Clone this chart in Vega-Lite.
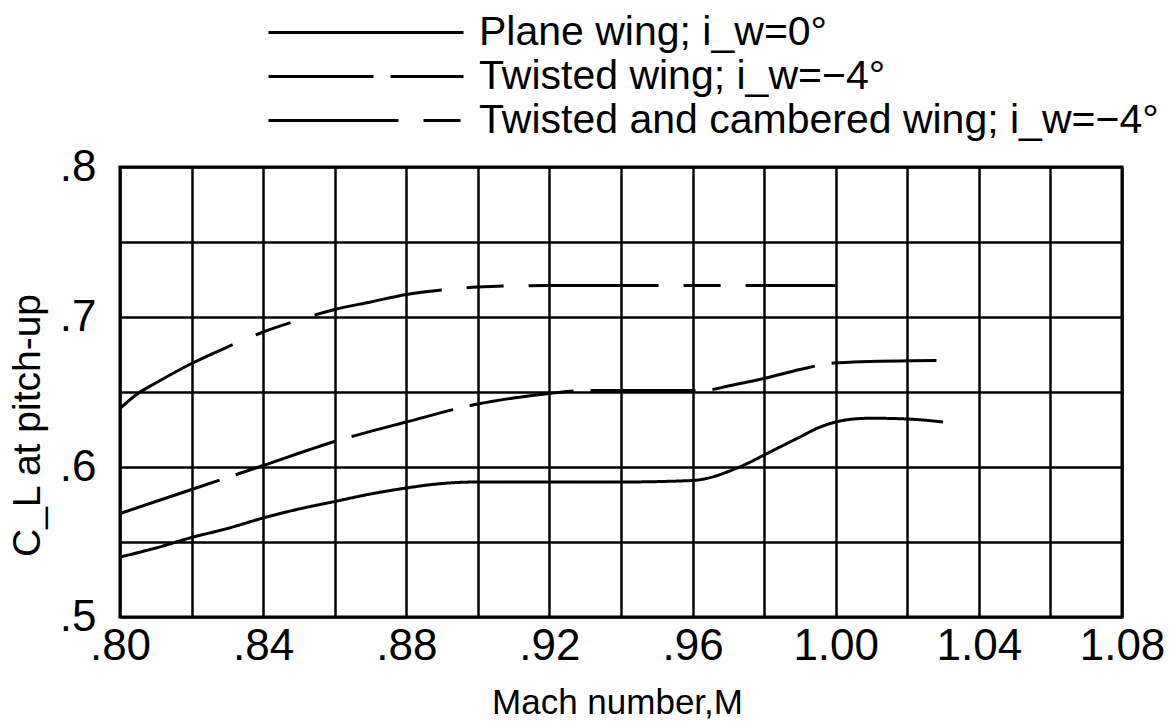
{
  "$schema": "https://vega.github.io/schema/vega-lite/v6.json",
  "width": 1002,
  "height": 450,
  "autosize": {"type": "none"},
  "padding": {"left": 120, "top": 167, "right": 53, "bottom": 107},
  "background": "white",
  "config": {
    "font": "Liberation Sans",
    "view": {"stroke": "black", "strokeWidth": 3},
    "axis": {"gridColor": "black", "gridWidth": 2.5, "gridOpacity": 1, "ticks": false, "domain": false, "labelColor": "black", "titleColor": "black", "labelFont": "Liberation Sans", "titleFont": "Liberation Sans", "titleFontWeight": "normal"}
  },
  "data": {"values": [
    {"M": 0.80, "CL": 0.540, "wing": "Plane wing; i_w=0°"},
    {"M": 0.81, "CL": 0.546, "wing": "Plane wing; i_w=0°"},
    {"M": 0.82, "CL": 0.553, "wing": "Plane wing; i_w=0°"},
    {"M": 0.83, "CL": 0.559, "wing": "Plane wing; i_w=0°"},
    {"M": 0.84, "CL": 0.566, "wing": "Plane wing; i_w=0°"},
    {"M": 0.85, "CL": 0.572, "wing": "Plane wing; i_w=0°"},
    {"M": 0.86, "CL": 0.577, "wing": "Plane wing; i_w=0°"},
    {"M": 0.87, "CL": 0.582, "wing": "Plane wing; i_w=0°"},
    {"M": 0.88, "CL": 0.586, "wing": "Plane wing; i_w=0°"},
    {"M": 0.89, "CL": 0.589, "wing": "Plane wing; i_w=0°"},
    {"M": 0.90, "CL": 0.590, "wing": "Plane wing; i_w=0°"},
    {"M": 0.92, "CL": 0.590, "wing": "Plane wing; i_w=0°"},
    {"M": 0.94, "CL": 0.590, "wing": "Plane wing; i_w=0°"},
    {"M": 0.96, "CL": 0.591, "wing": "Plane wing; i_w=0°"},
    {"M": 0.965, "CL": 0.593, "wing": "Plane wing; i_w=0°"},
    {"M": 0.97, "CL": 0.597, "wing": "Plane wing; i_w=0°"},
    {"M": 0.975, "CL": 0.602, "wing": "Plane wing; i_w=0°"},
    {"M": 0.98, "CL": 0.608, "wing": "Plane wing; i_w=0°"},
    {"M": 0.985, "CL": 0.614, "wing": "Plane wing; i_w=0°"},
    {"M": 0.99, "CL": 0.620, "wing": "Plane wing; i_w=0°"},
    {"M": 0.995, "CL": 0.626, "wing": "Plane wing; i_w=0°"},
    {"M": 1.00, "CL": 0.630, "wing": "Plane wing; i_w=0°"},
    {"M": 1.005, "CL": 0.632, "wing": "Plane wing; i_w=0°"},
    {"M": 1.01, "CL": 0.6325, "wing": "Plane wing; i_w=0°"},
    {"M": 1.02, "CL": 0.632, "wing": "Plane wing; i_w=0°"},
    {"M": 1.03, "CL": 0.630, "wing": "Plane wing; i_w=0°"},
    {"M": 0.80, "CL": 0.569, "wing": "Twisted wing; i_w=−4°"},
    {"M": 0.82, "CL": 0.585, "wing": "Twisted wing; i_w=−4°"},
    {"M": 0.84, "CL": 0.601, "wing": "Twisted wing; i_w=−4°"},
    {"M": 0.86, "CL": 0.617, "wing": "Twisted wing; i_w=−4°"},
    {"M": 0.88, "CL": 0.630, "wing": "Twisted wing; i_w=−4°"},
    {"M": 0.90, "CL": 0.642, "wing": "Twisted wing; i_w=−4°"},
    {"M": 0.91, "CL": 0.646, "wing": "Twisted wing; i_w=−4°"},
    {"M": 0.92, "CL": 0.649, "wing": "Twisted wing; i_w=−4°"},
    {"M": 0.93, "CL": 0.651, "wing": "Twisted wing; i_w=−4°"},
    {"M": 0.94, "CL": 0.651, "wing": "Twisted wing; i_w=−4°"},
    {"M": 0.96, "CL": 0.651, "wing": "Twisted wing; i_w=−4°"},
    {"M": 0.965, "CL": 0.6515, "wing": "Twisted wing; i_w=−4°"},
    {"M": 0.97, "CL": 0.654, "wing": "Twisted wing; i_w=−4°"},
    {"M": 0.98, "CL": 0.659, "wing": "Twisted wing; i_w=−4°"},
    {"M": 0.99, "CL": 0.665, "wing": "Twisted wing; i_w=−4°"},
    {"M": 1.00, "CL": 0.6695, "wing": "Twisted wing; i_w=−4°"},
    {"M": 1.005, "CL": 0.670, "wing": "Twisted wing; i_w=−4°"},
    {"M": 1.03, "CL": 0.671, "wing": "Twisted wing; i_w=−4°"},
    {"M": 0.80, "CL": 0.639, "wing": "Twisted and cambered wing; i_w=−4°"},
    {"M": 0.805, "CL": 0.649, "wing": "Twisted and cambered wing; i_w=−4°"},
    {"M": 0.81, "CL": 0.656, "wing": "Twisted and cambered wing; i_w=−4°"},
    {"M": 0.82, "CL": 0.669, "wing": "Twisted and cambered wing; i_w=−4°"},
    {"M": 0.83, "CL": 0.680, "wing": "Twisted and cambered wing; i_w=−4°"},
    {"M": 0.84, "CL": 0.690, "wing": "Twisted and cambered wing; i_w=−4°"},
    {"M": 0.85, "CL": 0.698, "wing": "Twisted and cambered wing; i_w=−4°"},
    {"M": 0.86, "CL": 0.705, "wing": "Twisted and cambered wing; i_w=−4°"},
    {"M": 0.87, "CL": 0.710, "wing": "Twisted and cambered wing; i_w=−4°"},
    {"M": 0.88, "CL": 0.715, "wing": "Twisted and cambered wing; i_w=−4°"},
    {"M": 0.89, "CL": 0.718, "wing": "Twisted and cambered wing; i_w=−4°"},
    {"M": 0.90, "CL": 0.720, "wing": "Twisted and cambered wing; i_w=−4°"},
    {"M": 0.92, "CL": 0.721, "wing": "Twisted and cambered wing; i_w=−4°"},
    {"M": 0.96, "CL": 0.721, "wing": "Twisted and cambered wing; i_w=−4°"},
    {"M": 1.00, "CL": 0.721, "wing": "Twisted and cambered wing; i_w=−4°"}
  ]},
  "mark": {"type": "line", "color": "black", "strokeWidth": 3, "interpolate": "monotone", "strokeCap": "butt"},
  "encoding": {
    "x": {
      "field": "M", "type": "quantitative",
      "scale": {"domain": [0.8, 1.08], "nice": false, "zero": false},
      "axis": {
        "values": [0.8, 0.82, 0.84, 0.86, 0.88, 0.9, 0.92, 0.94, 0.96, 0.98, 1.0, 1.02, 1.04, 1.06, 1.08],
        "labelExpr": "round(datum.value*100) % 4 == 0 ? (datum.value < 0.999 ? substring(format(datum.value, '.2f'), 1) : format(datum.value, '.2f')) : ''",
        "labelFontSize": 44, "labelPadding": 7, "labelFlush": false, "labelOverlap": false,
        "title": "Mach number,M", "titleFontSize": 35, "titleBaseline": "alphabetic", "titleY": 96, "titleX": 497
      }
    },
    "y": {
      "field": "CL", "type": "quantitative",
      "scale": {"domain": [0.5, 0.8], "nice": false, "zero": false},
      "axis": {
        "values": [0.5, 0.55, 0.6, 0.65, 0.7, 0.75, 0.8],
        "labelExpr": "round(datum.value*100) % 10 == 0 ? substring(format(datum.value, '.1f'), 1) : ''",
        "labelFontSize": 44, "labelPadding": 24, "labelFlush": false, "labelOverlap": false,
        "title": "C_L at pitch-up", "titleFontSize": 39, "titleAngle": -90, "titleAlign": "center", "titleBaseline": "alphabetic", "titleX": -81, "titleY": 258
      }
    },
    "strokeDash": {
      "field": "wing", "type": "nominal",
      "scale": {
        "domain": ["Plane wing; i_w=0°", "Twisted wing; i_w=−4°", "Twisted and cambered wing; i_w=−4°"],
        "range": [[1, 0], [105, 17], [130, 25, 37, 25]]
      },
      "legend": {
        "orient": "none", "legendX": 318, "legendY": -155, "title": null,
        "symbolType": "M-38,0L1,0", "symbolSize": 100, "symbolStrokeWidth": 3, "symbolStrokeColor": "black",
        "labelFontSize": 41, "labelColor": "black", "labelFont": "Liberation Sans", "labelOffset": 0, "labelLimit": 900,
        "padding": 0, "rowPadding": 2,
        "encode": {"symbols": {"update": {"strokeDash": {"signal": "datum.value === 'Twisted wing; i_w=−4°' ? [52, 17] : (datum.value === 'Plane wing; i_w=0°' ? [1, 0] : [125, 28, 37, 25])"}}}}
      }
    }
  }
}
